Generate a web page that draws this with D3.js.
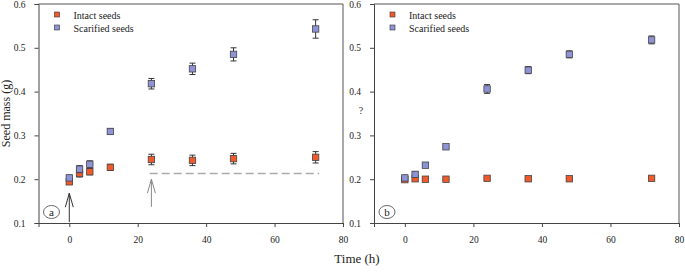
<!DOCTYPE html>
<html>
<head>
<meta charset="utf-8">
<script src="https://cdn.jsdelivr.net/npm/d3@7"></script>
<style>
  body { margin: 0; background: #fff; }
  svg { display: block; font-family: "Liberation Serif", "Times New Roman", serif; }
  .tick text { font-size: 9.5px; fill: #222; font-family: "Liberation Serif", serif; }
</style>
</head>
<body>
<script>
// sampling times (h)
var times = [0, 3, 6, 12, 24, 36, 48, 72];

// panel a
var intactA = [0.194, 0.213, 0.217, 0.227, 0.245, 0.243, 0.247, 0.250];
var intactErrA = [0.005, 0.008, 0.007, 0.007, 0.012, 0.012, 0.012, 0.013];
var scarA = [0.203, 0.223, 0.234, 0.309, 0.418, 0.452, 0.485, 0.543];
var scarErrA = [0.006, 0.008, 0.008, 0.006, 0.012, 0.013, 0.015, 0.021];

// panel b
var intactB = [0.199, 0.201, 0.200, 0.200, 0.202, 0.201, 0.201, 0.202];
var intactErrB = [0.003, 0.004, 0.003, 0.003, 0.004, 0.003, 0.003, 0.003];
var scarB = [0.203, 0.211, 0.232, 0.274, 0.406, 0.449, 0.485, 0.518];
var scarErrB = [0.004, 0.006, 0.003, 0.004, 0.010, 0.008, 0.008, 0.009];

var yTicks = [0.1, 0.2, 0.3, 0.4, 0.5, 0.6];
var xTicks = [0, 20, 40, 60, 80];
var seriesNames = ["Intact seeds", "Scarified seeds"];
var seriesColors = ["#ee5a2c", "#8e93d6"];

// dashed reference line + arrows in panel a
var refLine = {x0: 23.5, x1: 73, y: 0.213};
var arrows = [{t: 0, from: 0.102, to: 0.168, color: "#333"}, {t: 24, from: 0.137, to: 0.2, color: "#888"}];

var W = 685, H = 274;
var svg = d3.select("body").append("svg").attr("width", W).attr("height", H);

function panel(left, right, intact, intactErr, scar, scarErr, letter, yLabel) {
    var x = d3.scaleLinear().domain([-9, 80]).range([left, right]);
    var y = d3.scaleLinear().domain([0.1, 0.6]).range([223, 4]);
    var g = svg.append("g");

    // frame
    g.append("path")
        .attr("d", "M" + left + "," + y(0.6) + "H" + right + "V" + y(0.1))
        .attr("fill", "none").attr("stroke", "#555").attr("stroke-width", 1);

    var xa = g.append("g").attr("transform", "translate(0," + y(0.1) + ")")
        .call(d3.axisBottom(x).tickValues(xTicks).tickSize(4).tickPadding(9).tickFormat(d3.format("d")));
    var ya = g.append("g").attr("transform", "translate(" + left + ",0)")
        .call(d3.axisLeft(y).tickValues(yTicks).tickSize(4).tickPadding(9).tickFormat(d3.format(".1f")));
    [xa, ya].forEach(function(a) {
        a.attr("font-family", null).attr("font-size", null);
        a.select(".domain").attr("stroke", "#444");
        a.selectAll(".tick line").attr("stroke", "#444");
    });

    if (yLabel) {
        g.append("text").attr("transform", "translate(10," + y(0.35) + ") rotate(-90)")
            .attr("text-anchor", "middle").attr("font-size", 12).attr("fill", "#222").text(yLabel);
    }

    // legend
    seriesNames.forEach(function(n, i) {
        g.append("rect").attr("x", left + 16).attr("y", 12 + i * 13).attr("width", 5).attr("height", 5)
            .attr("fill", seriesColors[i]).attr("stroke", "#333").attr("stroke-width", 0.6);
        g.append("text").attr("x", left + 35).attr("y", 19 + i * 13).attr("font-size", 10).attr("fill", "#222").text(n);
    });

    // letter in circle
    g.append("ellipse").attr("cx", left + 13).attr("cy", 212).attr("rx", 8).attr("ry", 6.5)
        .attr("fill", "none").attr("stroke", "#444").attr("stroke-width", 0.8);
    g.append("text").attr("x", left + 13).attr("y", 215.5).attr("text-anchor", "middle")
        .attr("font-size", 11).attr("fill", "#222").text(letter);

    [[intact, intactErr, 0], [scar, scarErr, 1]].forEach(function(s) {
        var vals = s[0], errs = s[1], c = seriesColors[s[2]];
        var pts = g.append("g").selectAll("g").data(times).enter().append("g");
        pts.append("line")
            .attr("x1", function(d) { return x(d); }).attr("x2", function(d) { return x(d); })
            .attr("y1", function(d, i) { return y(vals[i] - errs[i]); })
            .attr("y2", function(d, i) { return y(vals[i] + errs[i]); })
            .attr("stroke", "#333").attr("stroke-width", 1);
        [-1, 1].forEach(function(sg) {
            pts.append("line")
                .attr("x1", function(d) { return x(d) - 3; }).attr("x2", function(d) { return x(d) + 3; })
                .attr("y1", function(d, i) { return y(vals[i] + sg * errs[i]); })
                .attr("y2", function(d, i) { return y(vals[i] + sg * errs[i]); })
                .attr("stroke", "#333").attr("stroke-width", 1);
        });
        pts.append("rect")
            .attr("x", function(d) { return x(d) - 3.2; })
            .attr("y", function(d, i) { return y(vals[i]) - 3.2; })
            .attr("width", 6.4).attr("height", 6.4)
            .attr("fill", c).attr("stroke", "#444").attr("stroke-width", 0.8);
    });
    return {x: x, y: y, g: g};
}

var pa = panel(38.5, 343, intactA, intactErrA, scarA, scarErrA, "a", "Seed mass (g)");
var pb = panel(374, 679, intactB, intactErrB, scarB, scarErrB, "b", null);

// dashed line in a
pa.g.append("line")
    .attr("x1", pa.x(refLine.x0)).attr("x2", pa.x(refLine.x1))
    .attr("y1", pa.y(refLine.y)).attr("y2", pa.y(refLine.y))
    .attr("stroke", "#aaa").attr("stroke-width", 1.5).attr("stroke-dasharray", "8,4");

// arrows in a
arrows.forEach(function(a) {
    var ax = pa.x(a.t), y0 = pa.y(a.from), y1 = pa.y(a.to);
    pa.g.append("path")
        .attr("d", "M" + ax + "," + y0 + "V" + y1 + "M" + (ax - 4) + "," + (y1 + 14) + "L" + ax + "," + y1 + "L" + (ax + 4) + "," + (y1 + 14))
        .attr("fill", "none").attr("stroke", a.color).attr("stroke-width", 1);
});

// "?" in b
svg.append("text").attr("x", 361).attr("y", 114).attr("text-anchor", "middle")
    .attr("font-size", 10).attr("fill", "#333").text("?");

// x label
svg.append("text").attr("x", 357).attr("y", 263).attr("text-anchor", "middle")
    .attr("font-size", 13).attr("fill", "#222").text("Time (h)");
</script>
</body>
</html>
